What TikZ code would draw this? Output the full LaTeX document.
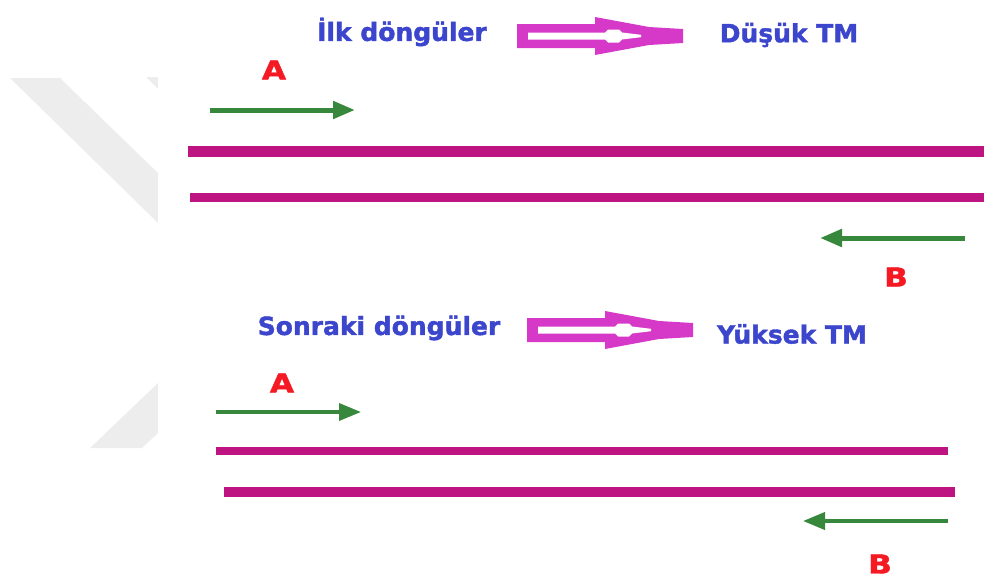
\documentclass[tikz,border=0pt]{standalone}
\usepackage{fontspec}
\setmainfont{DejaVu Sans}
\newfontfamily\heavyfont[FakeBold=1.6]{DejaVu Sans Bold}
\newfontfamily\lblfont[FakeBold=1.8,FakeStretch=1.2]{DejaVu Sans Bold}
\usetikzlibrary{arrows.meta}
\definecolor{txtblue}{RGB}{60,70,205}
\definecolor{lblred}{RGB}{245,25,35}
\definecolor{grn}{RGB}{55,135,60}
\definecolor{strand}{RGB}{190,20,130}
\definecolor{arrmag}{RGB}{214,56,200}
\definecolor{wm}{RGB}{237,237,237}
\tikzset{
  title/.style={font=\heavyfont\fontsize{25}{25}\selectfont, text=txtblue, inner sep=0pt},
  lbl/.style={font=\lblfont\fontsize{26}{26}\selectfont, text=lblred, inner sep=0pt},
  strandline/.style={draw=strand, line width=10pt},
  primer/.style={draw=grn, line width=5pt, -{Triangle[length=22pt,width=17pt]}},
  hollowarr/.pic={
    \fill[arrmag] (0,-12) -- (78,-12) -- (78,-19) -- (132,-9) -- (166,-7) -- (166,7) -- (132,9) -- (78,19) -- (78,12) -- (0,12) -- cycle;
    \fill[white] (11,-3.5) -- (88,-3.5) -- (91,-6.5) -- (102,-6.5) -- (105,-3.5) -- (124,-1.2) -- (124,1.2) -- (105,3.5) -- (102,6.5) -- (91,6.5) -- (88,3.5) -- (11,3.5) -- cycle;
  }
}
\begin{document}
\begin{tikzpicture}[x=1pt,y=-1pt]
\useasboundingbox (0,0) rectangle (984,581);
% watermark
\fill[wm] (10,78) -- (60,78) -- (158,173) -- (158,223) -- cycle;
\fill[wm] (146,77) -- (158,77) -- (158,89) -- cycle;
\fill[wm] (90,448) -- (142,448) -- (158,433) -- (158,383) -- cycle;

% upper panel
\node[title] (t1) at (402,32) {İlk döngüler};
\node[title] (t2) at (789,35) {Düşük TM};
\pic at (517,36) {hollowarr};
\node[lbl] (a1) at (274,70) {A};
\coordinate (a1s) at (210,110); \coordinate (a1e) at (355,110);
\draw[primer] (a1s) -- (a1e);
\coordinate (s1a) at (188,151); \coordinate (s1b) at (984,151);
\draw[strandline, line width=11pt] (s1a) -- (s1b);
\coordinate (s2a) at (190,197); \coordinate (s2b) at (984,197);
\draw[strandline, line width=9pt] (s2a) -- (s2b);
\coordinate (b1s) at (965,238); \coordinate (b1e) at (820,238);
\draw[primer] (b1s) -- (b1e);
\node[lbl] (b1) at (896,277) {B};

% lower panel
\node[title] (t3) at (379,328) {Sonraki döngüler};
\node[title] (t4) at (792,334) {Yüksek TM};
\pic at (527,330) {hollowarr};
\node[lbl] (a2) at (282,383) {A};
\coordinate (a2s) at (216,412); \coordinate (a2e) at (361,412);
\draw[primer, line width=3.5pt] (a2s) -- (a2e);
\coordinate (s3a) at (216,451); \coordinate (s3b) at (948,451);
\draw[strandline, line width=8pt] (s3a) -- (s3b);
\coordinate (s4a) at (224,492); \coordinate (s4b) at (955,492);
\draw[strandline, line width=10pt] (s4a) -- (s4b);
\coordinate (b2s) at (948,521); \coordinate (b2e) at (803,521);
\draw[primer, line width=4pt] (b2s) -- (b2e);
\node[lbl] (b2) at (880,564) {B};
\end{tikzpicture}
\end{document}
